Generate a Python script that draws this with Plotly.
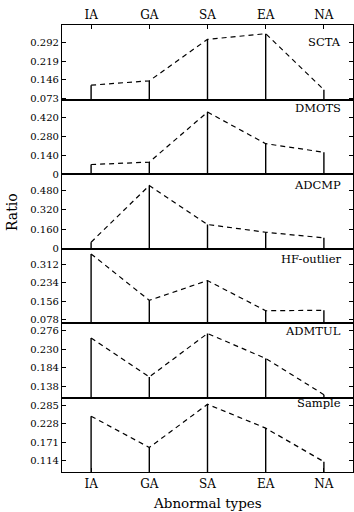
import plotly.graph_objects as go
from plotly.subplots import make_subplots

categories = ["IA", "GA", "SA", "EA", "NA"]

panel_names = ["SCTA", "DMOTS", "ADCMP", "HF-outlier", "ADMTUL", "Sample"]

scta = [0.125, 0.142, 0.304, 0.326, 0.107]
dmots = [0.071, 0.089, 0.464, 0.227, 0.163]
adcmp = [0.052, 0.520, 0.198, 0.134, 0.088]
hf_outlier = [0.357, 0.160, 0.244, 0.116, 0.118]
admtul = [0.258, 0.161, 0.269, 0.207, 0.117]
sample = [0.251, 0.154, 0.288, 0.214, 0.110]

scta_ticks = [0.073, 0.146, 0.219, 0.292]
dmots_ticks = [0, 0.140, 0.280, 0.420]
adcmp_ticks = [0, 0.160, 0.320, 0.480]
hf_ticks = [0.078, 0.156, 0.234, 0.312]
admtul_ticks = [0.138, 0.184, 0.230, 0.276]
sample_ticks = [0.114, 0.171, 0.228, 0.285]

series = [scta, dmots, adcmp, hf_outlier, admtul, sample]
ticks = [scta_ticks, dmots_ticks, adcmp_ticks, hf_ticks, admtul_ticks, sample_ticks]

# axis ranges (layout)
y_ranges = [
    [0.069, 0.360],
    [0.0, 0.558],
    [0.0, 0.615],
    [0.064, 0.380],
    [0.110, 0.295],
    [0.078, 0.309],
]
label_y = [0.77, 0.88, 0.85, 0.86, 0.89, 0.92]

FONT = "DejaVu Serif"

fig = make_subplots(rows=6, cols=1, vertical_spacing=0)

for i, (vals, tv, rng) in enumerate(zip(series, ticks, y_ranges)):
    row = i + 1
    minus = [v - rng[0] for v in vals]
    fig.add_trace(
        go.Scatter(
            x=categories,
            y=vals,
            mode="lines",
            line=dict(color="black", width=1.2, dash="5px,4px"),
            error_y=dict(
                type="data",
                symmetric=False,
                array=[0] * len(vals),
                arrayminus=minus,
                width=0,
                thickness=1.4,
                color="black",
            ),
            showlegend=False,
            hoverinfo="skip",
        ),
        row=row,
        col=1,
    )
    ttext = ["0" if t == 0 else f"{t:.3f}" for t in tv]
    fig.update_yaxes(
        range=rng,
        tickvals=tv,
        ticktext=ttext,
        ticks="inside",
        ticklen=4,
        tickwidth=1,
        tickcolor="black",
        showline=True,
        linecolor="black",
        linewidth=1.2,
        mirror="ticks",
        showgrid=False,
        zeroline=False,
        tickfont=dict(family=FONT, size=10, color="black"),
        row=row,
        col=1,
    )
    xa = dict(
        type="category",
        categoryorder="array",
        categoryarray=categories,
        range=[-0.5, 4.5],
        showline=True,
        linecolor="black",
        linewidth=1.2,
        mirror=True,
        showgrid=False,
        zeroline=False,
        tickfont=dict(family=FONT, size=12, color="black"),
    )
    if row == 1:
        xa.update(side="top", ticks="inside", ticklen=4, tickcolor="black",
                  showticklabels=True)
    elif row == 6:
        xa.update(side="bottom", ticks="inside", ticklen=4, tickcolor="black",
                  showticklabels=True)
    else:
        xa.update(ticks="", showticklabels=False)
    fig.update_xaxes(**xa, row=row, col=1)

    axn = "" if row == 1 else str(row)
    fig.add_annotation(
        x=0.966,
        y=label_y[i],
        xref=f"x{axn} domain",
        yref=f"y{axn} domain",
        text=panel_names[i],
        showarrow=False,
        xanchor="right",
        yanchor="middle",
        font=dict(family=FONT, size=11.5, color="black"),
    )

fig.add_annotation(
    x=-50 / 291, y=(472 - 212) / 447, xref="paper", yref="paper",
    text="Ratio", showarrow=False,
    textangle=-90, font=dict(family=FONT, size=14, color="black"),
    xanchor="center", yanchor="middle",
)

fig.add_annotation(
    x=(207.5 - 62) / 291, y=(472 - 503) / 447, xref="paper", yref="paper",
    text="Abnormal types", showarrow=False,
    font=dict(family=FONT, size=13.5, color="black"),
    xanchor="center", yanchor="middle",
)

fig.update_layout(
    width=354,
    height=512,
    margin=dict(l=62, r=1, t=25, b=40),
    paper_bgcolor="white",
    plot_bgcolor="white",
    showlegend=False,
    font=dict(family=FONT, color="black"),
)

fig.write_html(
    "out.html",
    config={"displayModeBar": False},
    post_script="document.body.style.margin='0';document.body.style.overflow='hidden';",
)
